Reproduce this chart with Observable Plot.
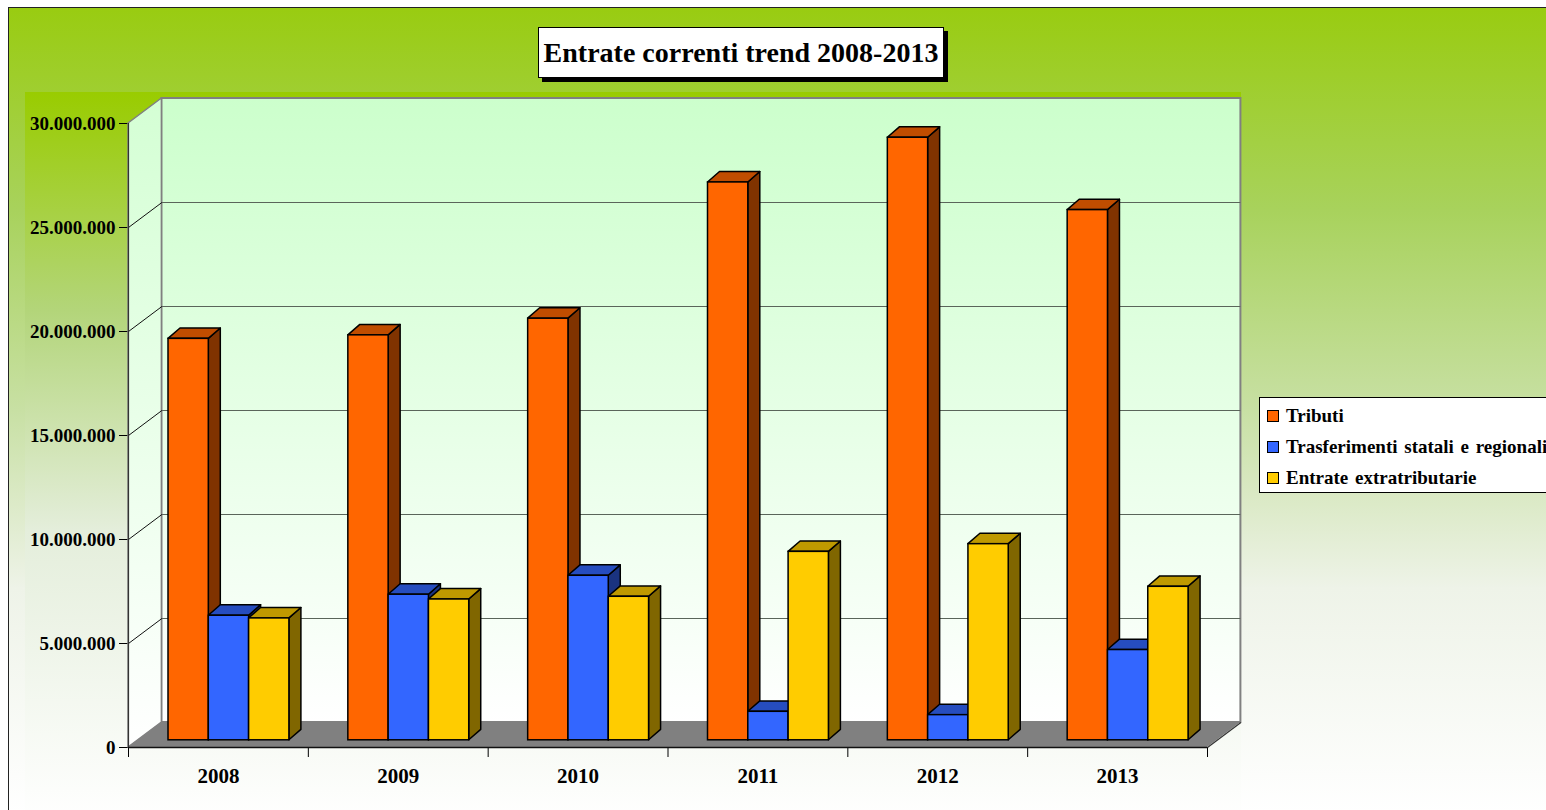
<!DOCTYPE html>
<html>
<head>
<meta charset="utf-8">
<script src="https://cdn.jsdelivr.net/npm/d3@7"></script>
<script src="https://cdn.jsdelivr.net/npm/@observablehq/plot@0.6"></script>
<style>
  html, body { margin: 0; padding: 0; background: #ffffff; }
  #stage { position: relative; width: 1546px; height: 810px; overflow: hidden; font-family: "Liberation Serif", "Times New Roman", serif; }
  #outer { position: absolute; left: 8px; top: 7px; right: -4px; bottom: -4px; border-left: 1px solid #222; border-top: 1px solid #222;
    background: linear-gradient(to bottom, #99cc11 0%, #a8d25c 25%, #c8e0a4 50%, #eef3e8 72%, #ffffff 100%); }
  #inner { position: absolute; left: 25px; top: 92px; width: 1216px; height: 730px;
    background: linear-gradient(to bottom, #99cc00 0%, #b3d57a 30%, #e4eedb 60%, #ffffff 100%); }
  #chart { position: absolute; left: 0; top: 0; }
  #title { position: absolute; left: 538px; top: 27px; width: 404px; height: 49px; background: #fff; border: 1px solid #000;
    box-shadow: 4px 4px 0 #000; display: flex; align-items: center; justify-content: center;
    font-weight: bold; font-size: 28px; color: #000; white-space: nowrap; }
  #legend { position: absolute; left: 1259px; top: 397px; width: 340px; height: 94px; background: #fff; border: 1px solid #000; }
  .item { position: absolute; left: 7px; height: 20px; display: flex; align-items: center; font-weight: bold; font-size: 19px; word-spacing: 2px; white-space: nowrap; color: #000; }
  .sw { width: 10px; height: 10px; border: 1px solid #000; margin-right: 7px; flex: none; }
</style>
</head>
<body>
<div id="stage">
  <div id="outer"></div>
  <div id="inner"></div>
  <div id="chart"></div>
  <div id="title"></div>
  <div id="legend"></div>
</div>
<script>
// ---- Data ----
const title = "Entrate correnti trend 2008-2013";
const years = ["2008", "2009", "2010", "2011", "2012", "2013"];
const seriesNames = ["Tributi", "Trasferimenti statali e regionali", "Entrate extratributarie"];
const tributi = [19300000, 19470000, 20270000, 26820000, 28970000, 25490000];
const trasferimenti = [5990000, 7000000, 7910000, 1370000, 1210000, 4340000];
const extratributarie = [5860000, 6770000, 6900000, 9060000, 9430000, 7380000];
const yTicks = [0, 5000000, 10000000, 15000000, 20000000, 25000000, 30000000];

// ---- Styles ----
const frontColors = ["#ff6600", "#3366ff", "#ffcc00"];
const topColors = ["#c04d00", "#264dbf", "#bf9900"];
const sideColors = ["#803300", "#1a3380", "#806600"];

// ---- Geometry (pixels -> data units) ----
const W = 1546, H = 810;
const mL = 128, mR = 339, mT = 123, mB = 63;
const kx = 6 / (W - mL - mR);          // x data units per pixel
const ky = 30000000 / (H - mT - mB);   // y data units per pixel
const DX = 33.4 * kx, DY = 25 * ky;    // full depth of the 3D box
const FBX = 9.4 * kx, FBY = 7.2 * ky;  // bar front plane offset
const DXb = 12 * kx, DYb = 10.4 * ky;  // bar depth
const barW = 40.3 * kx, groupOff = 30.6 * kx;

const seriesValues = [tributi, trasferimenti, extratributarie];
const bars = [];
years.forEach((yr, i) => {
  seriesValues.forEach((vals, j) => {
    const x1 = i + groupOff + j * barW + FBX;
    bars.push({id: i * 3 + j, j, x1, x2: x1 + barW, yb: FBY, yt: vals[i] + FBY});
  });
});
const sides = bars.flatMap(b => [
  {id: b.id, fill: sideColors[b.j], x: b.x2, y1: b.yb, y2: b.yt},
  {id: b.id, fill: sideColors[b.j], x: b.x2 + DXb, y1: b.yb + DYb, y2: b.yt + DYb}
]);
const tops = bars.flatMap(b => [
  {id: b.id, fill: topColors[b.j], y: b.yt, x1: b.x1, x2: b.x2},
  {id: b.id, fill: topColors[b.j], y: b.yt + DYb, x1: b.x1 + DXb, x2: b.x2 + DXb}
]);

const itFmt = d3.formatLocale({decimal: ",", thousands: ".", grouping: [3], currency: ["€", ""]}).format(",");
const maxY = yTicks[yTicks.length - 1];
const innerTicks = yTicks.filter(t => t > 0 && t < maxY);

const plot = Plot.plot({
  width: W, height: H,
  marginLeft: mL, marginRight: mR, marginTop: mT, marginBottom: mB,
  style: {background: "transparent", fontFamily: "Liberation Serif, Times New Roman, serif", fontWeight: "bold", fontSize: "19px", color: "#000"},
  x: {type: "linear", domain: [0, years.length], ticks: years.length, tickFormat: () => "", tickSize: 10, label: null},
  y: {domain: [0, maxY], ticks: yTicks.length - 1, tickFormat: itFmt, tickSize: 9, tickPadding: 4, label: null},
  color: {type: "identity"},
  marks: [
    // back wall
    Plot.rect([0], {x1: () => DX, x2: () => years.length + DX, y1: () => DY, y2: () => maxY + DY, fill: "url(#wallGrad)", stroke: "#808080", strokeWidth: 2}),
    // left wall
    Plot.areaY([{x: 0, y1: 0, y2: maxY}, {x: DX, y1: DY, y2: maxY + DY}], {x: "x", y1: "y1", y2: "y2", fill: "url(#sideGrad)", stroke: "#808080", strokeWidth: 1.5}),
    // floor
    Plot.areaX([{y: 0, x1: 0, x2: years.length}, {y: DY, x1: DX, x2: years.length + DX}], {y: "y", x1: "x1", x2: "x2", fill: "#808080"}),
    // gridlines on back wall
    Plot.ruleY(innerTicks, {y: d => d + DY, x1: () => DX, x2: () => years.length + DX, stroke: "#5a655a", strokeWidth: 1.2}),
    // gridlines on left wall
    Plot.link(innerTicks, {x1: () => 0, y1: d => d, x2: () => DX, y2: d => d + DY, stroke: "#111", strokeWidth: 1}),
    // floor right edge
    Plot.link([0], {x1: () => years.length, y1: () => 0, x2: () => years.length + DX, y2: () => DY, stroke: "#333", strokeWidth: 1.2}),
    // axis lines
    Plot.ruleX([0], {y1: 0, y2: maxY, stroke: "#333", strokeWidth: 1.2}),
    Plot.ruleY([0], {x1: 0, x2: years.length, stroke: "#111", strokeWidth: 1.5}),
    // bars: side faces, top faces, front faces
    Plot.areaY(sides, {x: "x", y1: "y1", y2: "y2", z: "id", fill: "fill", stroke: "#000", strokeWidth: 1.5, strokeLinejoin: "round"}),
    Plot.areaX(tops, {y: "y", x1: "x1", x2: "x2", z: "id", fill: "fill", stroke: "#000", strokeWidth: 1.5, strokeLinejoin: "round"}),
    Plot.rect(bars, {x1: "x1", x2: "x2", y1: "yb", y2: "yt", fill: d => frontColors[d.j], stroke: "#000", strokeWidth: 1.5}),
    // year labels
    Plot.text(years, {x: (d, i) => i + 0.5, y: () => 0, text: d => d, dy: 29, fontSize: 21, fontWeight: "bold", fill: "#000"})
  ]
});

d3.select(plot).insert("defs", ":first-child").html(`
  <linearGradient id="wallGrad" x1="0" y1="0" x2="0" y2="1">
    <stop offset="0" stop-color="#ccffcc"/><stop offset="1" stop-color="#ffffff"/>
  </linearGradient>
  <linearGradient id="sideGrad" x1="0" y1="0" x2="0" y2="1">
    <stop offset="0" stop-color="#d4ffd4"/><stop offset="1" stop-color="#ffffff"/>
  </linearGradient>`);
document.getElementById("chart").appendChild(plot);

document.getElementById("title").textContent = title;
const legend = document.getElementById("legend");
const rowTops = [8, 39, 70];
seriesNames.forEach((name, j) => {
  const it = document.createElement("div");
  it.className = "item";
  it.style.top = rowTops[j] + "px";
  const sw = document.createElement("span");
  sw.className = "sw";
  sw.style.background = frontColors[j];
  it.appendChild(sw);
  it.appendChild(document.createTextNode(name));
  legend.appendChild(it);
});
</script>
</body>
</html>
